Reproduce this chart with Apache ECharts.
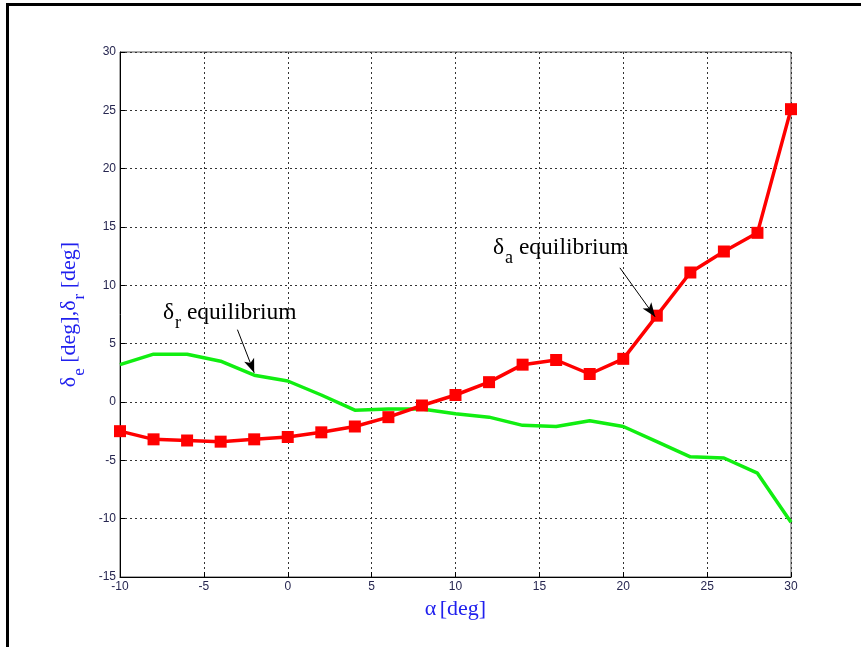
<!DOCTYPE html>
<html>
<head>
    <meta charset="utf-8">
    <title>delta equilibrium</title>
    <script src="https://cdn.jsdelivr.net/npm/echarts@6/dist/echarts.min.js"></script>
</head>
<body style="margin:0;background:#fff;">
    <div id="demo" style="width:861px;height:647px;"></div>
    <script type="text/javascript">
        // angle of attack, deg
        var alpha = [-10, -8, -6, -4, -2, 0, 2, 4, 6, 8, 10, 12, 14, 16, 18, 20, 22, 24, 26, 28, 30];
        // delta_a equilibrium (red, squares)
        var deltaA = [-2.5, -3.2, -3.3, -3.4, -3.2, -3.0, -2.6, -2.1, -1.3, -0.3, 0.6, 1.7, 3.2, 3.6, 2.4, 3.7, 7.4, 11.1, 12.9, 14.5, 25.1];
        // delta_r equilibrium (green)
        var deltaR = [3.2, 4.1, 4.1, 3.5, 2.3, 1.8, 0.6, -0.7, -0.6, -0.6, -1.0, -1.3, -2.0, -2.1, -1.6, -2.1, -3.4, -4.7, -4.8, -6.1, -10.3];
        // arrows of the two annotations, [from, to] in data units
        var arrowA = [[19.8, 11.5], [21.9, 7.3]];
        var arrowR = [[-3.0, 6.2], [-2.0, 2.5]];

        var tickFont = { color: '#262650', fontFamily: 'Liberation Sans', fontSize: 12 };
        var serif = 'Liberation Serif';

        var chart = echarts.init(document.getElementById('demo'));

        function arrowLine(pts) {
            return {
                silent: true,
                symbol: ['none', 'arrow'],
                symbolSize: [8, 14],
                label: { show: false },
                lineStyle: { color: '#000', width: 1, type: 'solid' },
                data: [[{ coord: pts[0] }, { coord: pts[1] }]]
            };
        }

        function annot(sub) {
            return {
                text: '{d|δ}{s|' + sub + '}{t| equilibrium}',
                rich: {
                    d: { fontFamily: serif, fontSize: 23.5, fill: '#000', lineHeight: 27 },
                    s: { fontFamily: serif, fontSize: 18, fill: '#000', padding: [21, 0, 0, 1], lineHeight: 27 },
                    t: { fontFamily: serif, fontSize: 23.5, fill: '#000', lineHeight: 27 }
                }
            };
        }

        var option = {
            animation: false,
            backgroundColor: '#fff',
            grid: { left: 120, right: 70, top: 52, bottom: 70, show: true, borderColor: '#555', borderWidth: 1 },
            xAxis: {
                type: 'value', min: -10, max: 30, interval: 5,
                name: '{g|α} {t|[deg]}', nameLocation: 'middle', nameGap: 21,
                nameTextStyle: {
                    rich: {
                        g: { fontFamily: serif, fontSize: 22, color: '#2020ee' },
                        t: { fontFamily: serif, fontSize: 22, color: '#2020ee' }
                    }
                },
                axisLine: { onZero: false, lineStyle: { color: '#000', width: 1 } },
                axisTick: { inside: true, length: 5, lineStyle: { color: '#000' } },
                axisLabel: Object.assign({ margin: 4 }, tickFont),
                splitLine: { lineStyle: { color: '#333', type: [2, 3], width: 1 } }
            },
            yAxis: {
                type: 'value', min: -15, max: 30, interval: 5,
                name: '{d|δ}{s|e}{t| [deg],}{d|δ}{s|r}{t| [deg]}', nameLocation: 'middle', nameGap: 33, nameRotate: 90,
                nameTextStyle: {
                    rich: {
                        d: { fontFamily: serif, fontSize: 22, color: '#2020ee', lineHeight: 26 },
                        s: { fontFamily: serif, fontSize: 17, color: '#2020ee', padding: [20, 0, 0, 1], lineHeight: 26 },
                        t: { fontFamily: serif, fontSize: 22, color: '#2020ee', lineHeight: 26 }
                    }
                },
                axisLine: { onZero: false, lineStyle: { color: '#000', width: 1 } },
                axisTick: { inside: true, length: 5, lineStyle: { color: '#000' } },
                axisLabel: Object.assign({ margin: 4 }, tickFont),
                splitLine: { lineStyle: { color: '#333', type: [2, 3], width: 1 } }
            },
            series: [
                {
                    name: 'delta_r',
                    type: 'line',
                    data: alpha.map(function (a, i) { return [a, deltaR[i]]; }),
                    showSymbol: false,
                    lineStyle: { color: '#11ee11', width: 3.5 },
                    markLine: arrowLine(arrowR),
                    z: 2
                },
                {
                    name: 'delta_a',
                    type: 'line',
                    data: alpha.map(function (a, i) { return [a, deltaA[i]]; }),
                    symbol: 'rect',
                    symbolSize: 12,
                    itemStyle: { color: '#ff0000' },
                    lineStyle: { color: '#ff0000', width: 3.5 },
                    markLine: arrowLine(arrowA),
                    z: 3
                }
            ],
            graphic: [
                {
                    type: 'rect', left: 5, top: 2, silent: true,
                    shape: { width: 900, height: 700 },
                    style: { fill: 'none', stroke: '#000', lineWidth: 3 }
                },
                { type: 'text', left: 493, top: 228, silent: true, style: annot('a') },
                { type: 'text', left: 163, top: 293, silent: true, style: annot('r') }
            ]
        };

        chart.setOption(option);
    </script>
</body>
</html>
